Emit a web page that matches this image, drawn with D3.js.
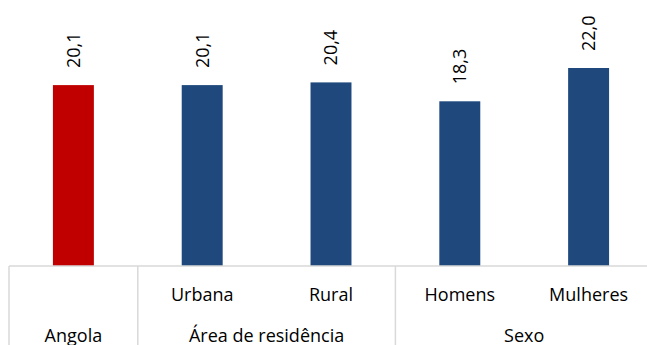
<!DOCTYPE html>
<html>
<head>
<meta charset="utf-8">
<script src="https://cdn.jsdelivr.net/npm/d3@7"></script>
<style>
  html, body { margin: 0; padding: 0; background: #fff; }
  svg { display: block; }
  text { font-family: "Open Sans", "Noto Sans", sans-serif; fill: #000; }
</style>
</head>
<body>
<svg id="chart" width="647" height="345"></svg>
<script>
// Categories, their groups and values
const categories = ["Angola", "Urbana", "Rural", "Homens", "Mulheres"];
const categoryLabels = ["", "Urbana", "Rural", "Homens", "Mulheres"];
const groups = ["Angola", "Área de residência", "Área de residência", "Sexo", "Sexo"];
const groupNames = ["Angola", "Área de residência", "Sexo"];
const values = [20.1, 20.1, 20.4, 18.3, 22.0];
const barColors = ["#C00000", "#1F497D", "#1F497D", "#1F497D", "#1F497D"];

const svg = d3.select("#chart");
const baseY = 266;
const fontSize = 18;

const x = d3.scaleBand()
  .domain(categories)
  .range([9, 653])
  .paddingInner(0.682)
  .paddingOuter(0.341);

const y = d3.scaleLinear()
  .domain([0, 25])
  .range([baseY, 41]);

const fmt = v => d3.format(".1f")(v).replace(".", ",");

// Bars
svg.append("g").selectAll("rect")
  .data(categories)
  .join("rect")
  .attr("x", d => x(d))
  .attr("y", (d, i) => y(values[i]))
  .attr("width", x.bandwidth())
  .attr("height", (d, i) => y(0) - y(values[i]))
  .attr("fill", (d, i) => barColors[i]);

// Rotated value labels above the bars
svg.append("g").selectAll("text")
  .data(categories)
  .join("text")
  .attr("transform", (d, i) => {
    const cx = x(d) + x.bandwidth() / 2;
    return `translate(${cx},${y(values[i]) - 17}) rotate(-90)`;
  })
  .attr("dy", "0.36em")
  .attr("text-anchor", "start")
  .attr("font-size", fontSize)
  .text((d, i) => fmt(values[i]));

// Category axis: baseline and group separators
const axisColor = "#D9D9D9";
const step = x.step();
const left = x(categories[0]) - (step - x.bandwidth()) / 2;
const right = 647;

const axis = svg.append("g");
axis.append("line")
  .attr("x1", left).attr("x2", right)
  .attr("y1", baseY).attr("y2", baseY)
  .attr("stroke", axisColor).attr("stroke-width", 1.5);

// Extent of each group along the band scale
const groupExtent = groupNames.map(g => {
  const idx = groups.map((v, i) => v === g ? i : -1).filter(i => i >= 0);
  const c0 = categories[idx[0]], c1 = categories[idx[idx.length - 1]];
  const x0 = x(c0) + x.bandwidth() / 2 - step / 2;
  const x1 = x(c1) + x.bandwidth() / 2 + step / 2;
  return { name: g, x0, x1 };
});

const separators = [groupExtent[0].x0].concat(groupExtent.slice(0, -1).map(g => g.x1));
axis.selectAll("line.sep")
  .data(separators)
  .join("line")
  .attr("class", "sep")
  .attr("x1", d => d).attr("x2", d => d)
  .attr("y1", baseY).attr("y2", 345)
  .attr("stroke", axisColor).attr("stroke-width", 1.5);

// First row: category names
axis.selectAll("text.cat")
  .data(categories)
  .join("text")
  .attr("class", "cat")
  .attr("x", d => x(d) + x.bandwidth() / 2)
  .attr("y", 301)
  .attr("text-anchor", "middle")
  .attr("font-size", fontSize)
  .text((d, i) => categoryLabels[i]);

// Second row: group names
axis.selectAll("text.grp")
  .data(groupExtent)
  .join("text")
  .attr("class", "grp")
  .attr("x", d => (d.x0 + d.x1) / 2)
  .attr("y", 342)
  .attr("text-anchor", "middle")
  .attr("font-size", fontSize)
  .text(d => d.name);
</script>
</body>
</html>
